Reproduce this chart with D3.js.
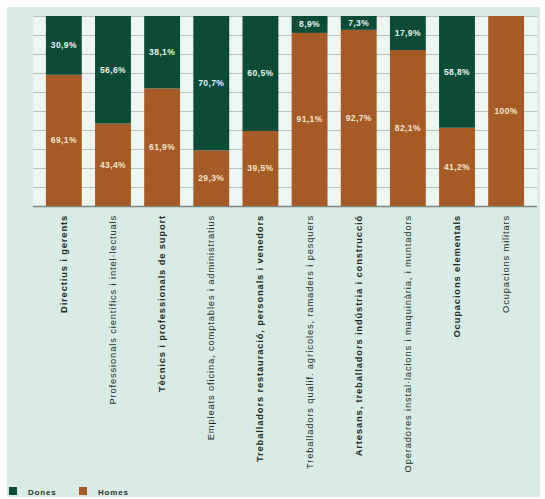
<!DOCTYPE html>
<html>
<head>
<meta charset="utf-8">
<script src="https://cdn.jsdelivr.net/npm/d3@7"></script>
<style>
  body { margin: 0; background: #fff; }
  svg { display: block; font-family: "Liberation Sans", Arial, sans-serif; }
</style>
</head>
<body>
<div id="chart"></div>
<script>
// data (percent)
var categories = [
  'Directius i gerents',
  'Professionals científics i intel·lectuals',
  'Tècnics i professionals de suport',
  'Empleats oficina, comptables i administratius',
  'Treballadors restauració, personals i venedors',
  'Treballadors qualif. agrícoles, ramaders i pesquers',
  'Artesans, treballadors indústria i construcció',
  'Operadores instal·lacions i maquinària, i muntadors',
  'Ocupacions elementals',
  'Ocupacions militars'
]
var homes = [69.1, 43.4, 61.9, 29.3, 39.5, 91.1, 92.7, 82.1, 41.2, 100]
var dones = [30.9, 56.6, 38.1, 70.7, 60.5, 8.9, 7.3, 17.9, 58.8, 0]
var series = ['Dones', 'Homes']
var yTicks = [0, 10, 20, 30, 40, 50, 60, 70, 80, 90, 100]

var W = 545, H = 499
var margin = { top: 16, right: 8, bottom: 293, left: 33 }
var width = 537 - margin.left
var height = 206 - margin.top

var colors = { Dones: '#0c4c37', Homes: '#a65a26' }

var svg = d3.select('#chart')
  .append('svg')
  .attr('width', W)
  .attr('height', H)

// panel background
svg.append('rect')
  .attr('x', 7).attr('y', 7)
  .attr('width', 533).attr('height', 490)
  .attr('fill', '#d8ece5')

var g = svg.append('g')
  .attr('transform', 'translate(' + margin.left + ',' + margin.top + ')')

var x = d3.scaleBand()
  .domain(categories)
  .range([7, 497])
  .paddingInner(0.27)
  .paddingOuter(0.12)
var y = d3.scaleLinear()
  .domain([0, 100])
  .range([height, 0])

// plot area, a bit lighter
g.append('rect')
  .attr('x', 0).attr('y', 0)
  .attr('width', width).attr('height', height)
  .attr('fill', '#eef6f1')

// gridlines
g.append('g')
  .selectAll('line')
  .data(yTicks)
  .enter()
  .append('line')
  .attr('x1', 0)
  .attr('x2', width)
  .attr('y1', d => y(d) + 0.5)
  .attr('y2', d => y(d) + 0.5)
  .attr('stroke', d => d === 0 ? '#7d8580' : '#aab2ad')
  .attr('stroke-width', d => d === 0 ? 1.5 : 0.8)

var rows = categories.map(function (c, i) {
  return { cat: c, Homes: homes[i], Dones: dones[i] }
})
var stacked = d3.stack().keys(['Homes', 'Dones'])(rows)

var layers = g.selectAll('g.layer')
  .data(stacked)
  .enter()
  .append('g')
  .attr('class', 'layer')
  .attr('fill', d => colors[d.key])

layers.selectAll('rect')
  .data(d => d)
  .enter()
  .append('rect')
  .attr('x', d => x(d.data.cat))
  .attr('width', x.bandwidth())
  .attr('y', d => y(d[1]))
  .attr('height', d => y(d[0]) - y(d[1]))

layers.each(function (layer) {
  d3.select(this).selectAll('text')
    .data(layer.filter(d => d[1] - d[0] > 0))
    .enter()
    .append('text')
    .attr('x', d => x(d.data.cat) + x.bandwidth() / 2)
    .attr('y', d => (y(d[0]) + y(d[1])) / 2 + 3)
    .attr('text-anchor', 'middle')
    .attr('font-size', 8.5)
    .attr('letter-spacing', 0.4)
    .attr('font-weight', 'bold')
    .attr('fill', layer.key === 'Dones' ? '#e6f4ee' : '#f7e6cc')
    .text(function (d) {
      var v = d[1] - d[0]
      return (v === 100 ? '100' : d3.format('.1f')(v).replace('.', ',')) + '%'
    })
})

// category labels, rotated
g.append('g')
  .selectAll('text')
  .data(categories)
  .enter()
  .append('text')
  .attr('transform', d => 'translate(' + (x(d) + x.bandwidth() / 2 + 3) + ',' + (height + 9) + ') rotate(-90)')
  .attr('text-anchor', 'end')
  .attr('font-size', 9.4)
  .attr('letter-spacing', 0.85)
  .attr('font-weight', (d, i) => i % 2 === 0 ? 'bold' : 'normal')
  .attr('fill', '#1f2a26')
  .text(d => d)

// legend
var legend = svg.append('g')
  .attr('transform', 'translate(9,487)')
var li = legend.selectAll('g')
  .data(series)
  .enter()
  .append('g')
  .attr('transform', (d, i) => 'translate(' + (i * 70) + ',0)')
li.append('rect')
  .attr('width', 8).attr('height', 8)
  .attr('fill', d => colors[d])
li.append('text')
  .attr('x', 19).attr('y', 7.5)
  .attr('font-size', 8)
  .attr('letter-spacing', 0.8)
  .attr('font-weight', 'bold')
  .attr('fill', '#2a3430')
  .text(d => d)
</script>
</body>
</html>
